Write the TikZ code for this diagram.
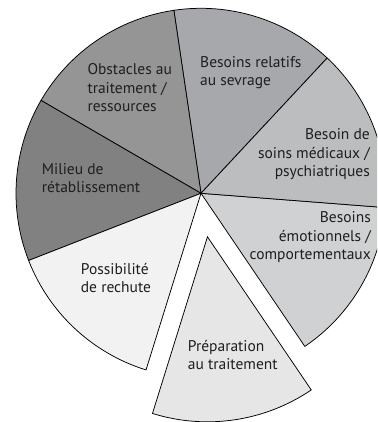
\documentclass[tikz,border=0pt]{standalone}
\usepackage{fontspec}
\usetikzlibrary{calc}
\setmainfont{PT Sans}
\definecolor{sevrage}{HTML}{A6A8AB}
\definecolor{obstacles}{HTML}{959595}
\definecolor{milieu}{HTML}{818181}
\definecolor{rechute}{HTML}{F2F2F2}
\definecolor{preparation}{HTML}{E6E6E6}
\definecolor{emotion}{HTML}{D0D1D2}
\definecolor{soins}{HTML}{BCBDBF}
\definecolor{ink}{HTML}{1E1E1E}
\tikzset{
  slice/.style={draw=black, line width=0.75pt, line join=miter},
  lbl/.style={inner sep=0pt, text=ink, font=\fontsize{15.5}{18.5}\selectfont},
}
% one wedge of the pie: centre, start angle, end angle, radius
\newcommand\pieWedge[5]{%
  \filldraw[slice, fill=#5] (#1) -- ++(#2:#4) arc[start angle=#2, end angle=#3, radius=#4] -- cycle;}
\begin{document}
\begin{tikzpicture}[x=1pt, y=1pt]
  \useasboundingbox (0,0) rectangle (377,422);
  \clip (0,0) rectangle (377,422);
  \coordinate (c) at (201,228.7);
  \coordinate (cx) at ($(c)+(278.43:44)$);
  \def\R{185}
  \pieWedge{c}{47}{98.43}{\R}{sevrage}
  \pieWedge{c}{98.43}{149.86}{\R}{obstacles}
  \pieWedge{c}{149.86}{201.29}{\R}{milieu}
  \pieWedge{c}{201.29}{252.71}{\R}{rechute}
  \pieWedge{cx}{252.71}{304.14}{\R}{preparation}
  \pieWedge{c}{304.14}{355.57}{\R}{emotion}
  \pieWedge{c}{355.57}{407}{\R}{soins}

  % labels are anchored on the baseline of their last line
  \node[lbl, anchor=base west, align=left] (sev) at (200,336) {Besoins relatifs\\au sevrage};
  \node[lbl, anchor=base east, align=right] (med) at (370,245) {Besoin de\\soins médicaux /\\psychiatriques};
  \node[lbl, anchor=base east, align=right] (emo) at (371,162) {Besoins\\émotionnels /\\comportementaux};
  \node[lbl, anchor=base west, align=left] (obs) at (87.3,310) {Obstacles au\\traitement /\\ressources};
  \node[lbl, anchor=base west, align=left] (mil) at (41.7,229) {Milieu de\\rétablissement};
  \node[lbl, anchor=base west, align=left] (rec) at (80.7,129) {Possibilité\\de rechute};
  \node[lbl, anchor=base west, align=left] (pre) at (187.7,52) {Préparation\\au traitement};
\end{tikzpicture}
\end{document}
